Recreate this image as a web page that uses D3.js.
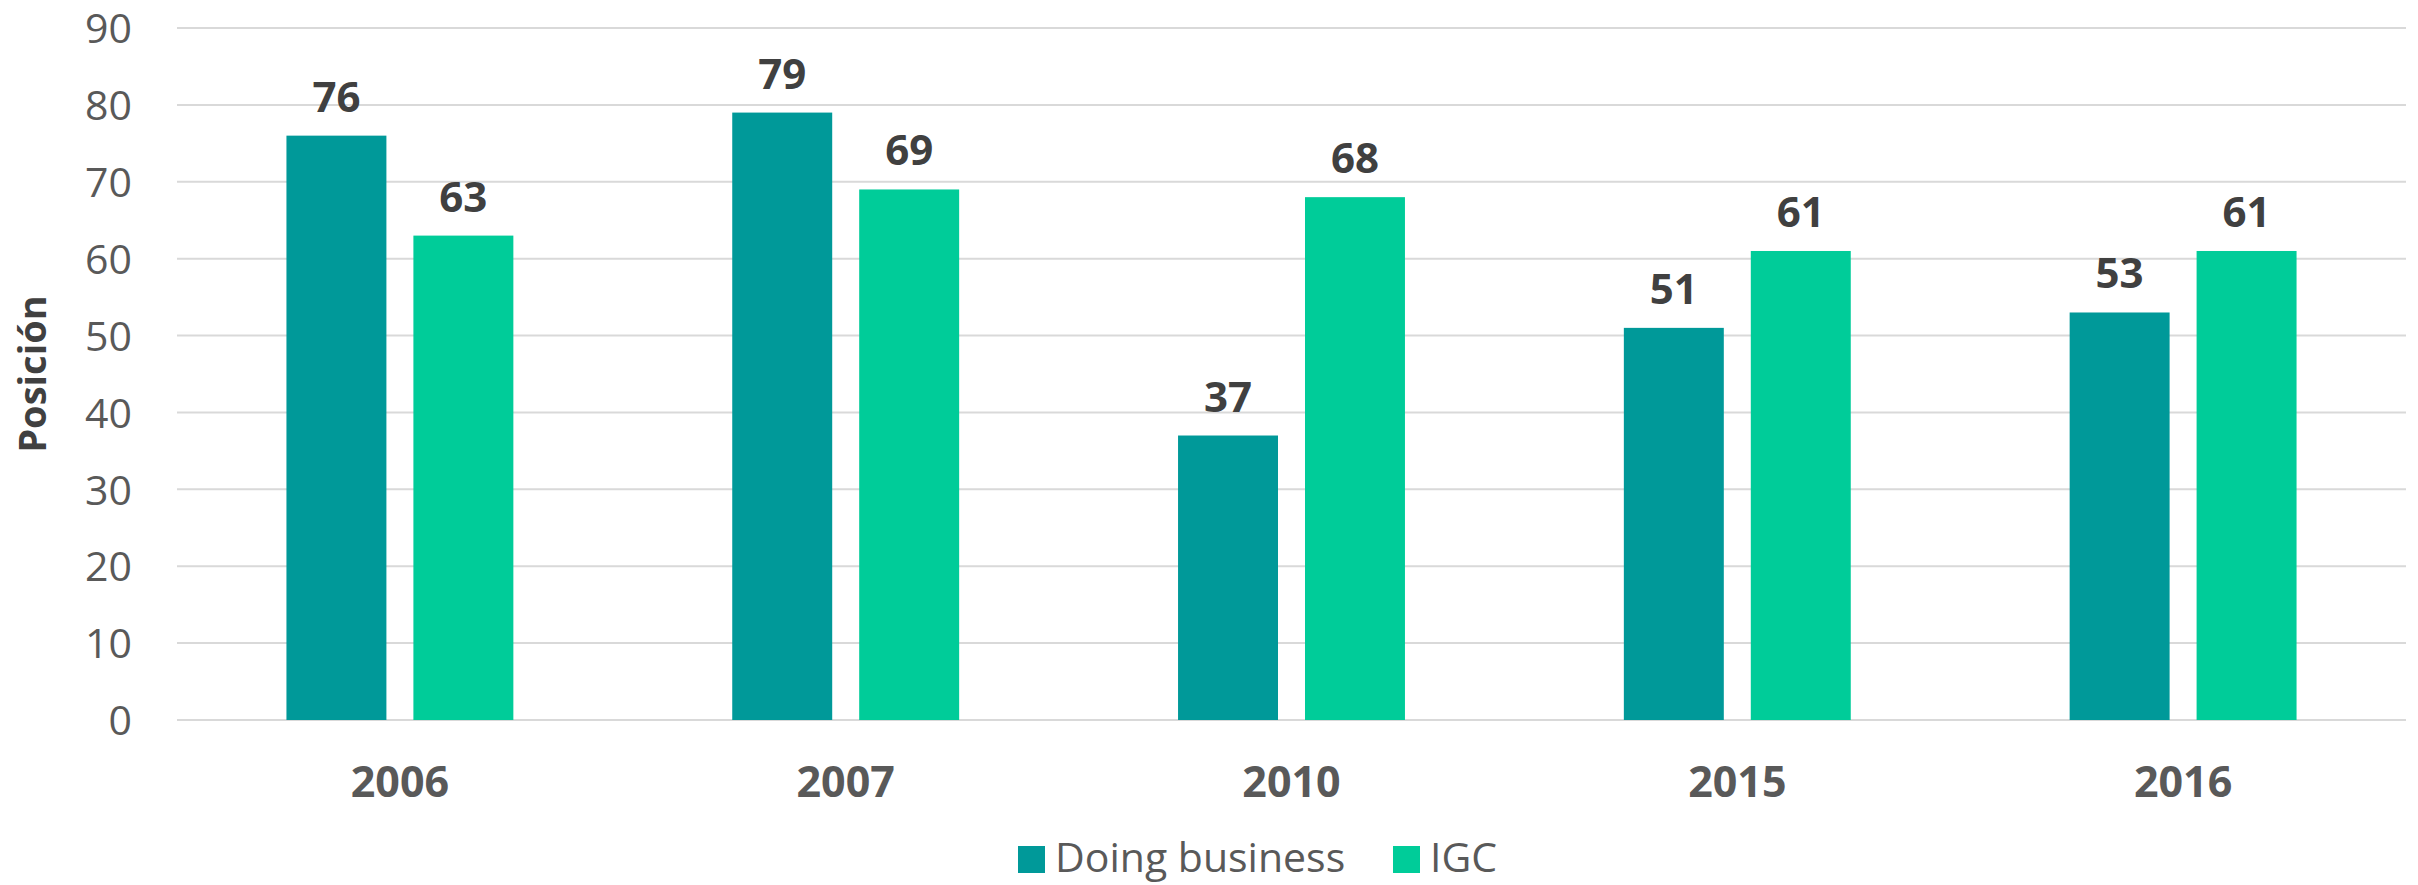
<!DOCTYPE html>
<html>
<head>
<meta charset="utf-8">
<script src="https://cdn.jsdelivr.net/npm/d3@7"></script>
<style>
  html, body { margin: 0; padding: 0; background: #ffffff; }
  svg { display: block; }
</style>
</head>
<body>
<svg id="chart" width="2418" height="885"></svg>
<script>
const years = ["2006", "2007", "2010", "2015", "2016"];
const seriesNames = ["Doing business", "IGC"];
const doingBusiness = [76, 79, 37, 51, 53];
const igc = [63, 69, 68, 61, 61];
const yTicks = [0, 10, 20, 30, 40, 50, 60, 70, 80, 90];
const colors = ["#009999", "#00CC99"];
const yTitle = "Posición";

const values = [doingBusiness, igc];
const font = "'Open Sans', 'Noto Sans', sans-serif";

const svg = d3.select("#chart");
const plotLeft = 177, plotRight = 2406, plotTop = 28, plotBottom = 720;

const x0 = d3.scaleBand().domain(years).range([plotLeft, plotRight])
  .paddingInner(0.491).paddingOuter(0.2455);
const x1 = d3.scaleBand().domain(seriesNames).range([0, x0.bandwidth()])
  .paddingInner(0.2126).paddingOuter(0);
const y = d3.scaleLinear().domain([0, 90]).range([plotBottom, plotTop]);
const color = d3.scaleOrdinal().domain(seriesNames).range(colors);

// gridlines
svg.append("g").selectAll("line").data(yTicks).join("line")
  .attr("x1", plotLeft).attr("x2", plotRight)
  .attr("y1", d => y(d)).attr("y2", d => y(d))
  .attr("stroke", "#d9d9d9").attr("stroke-width", 2);

// y axis labels
const yAxis = svg.append("g").attr("transform", `translate(${plotLeft - 45},0)`)
  .call(d3.axisLeft(y).tickValues(yTicks).tickSize(0).tickPadding(0));
yAxis.select(".domain").remove();
yAxis.selectAll("text").attr("font-family", font).attr("font-size", 41)
  .attr("fill", "#595959").attr("dy", "0.36em");

// x axis labels
const xAxis = svg.append("g").attr("transform", `translate(0,${plotBottom})`)
  .call(d3.axisBottom(x0).tickSize(0).tickPadding(0));
xAxis.select(".domain").remove();
xAxis.selectAll("text").attr("font-family", font).attr("font-size", 43)
  .attr("font-weight", "bold").attr("fill", "#595959").attr("y", 77).attr("dy", 0);

// bars
const groups = svg.append("g").selectAll("g").data(years).join("g")
  .attr("transform", d => `translate(${x0(d)},0)`);
groups.selectAll("rect")
  .data((d, i) => seriesNames.map((s, k) => ({ s, v: values[k][i] })))
  .join("rect")
  .attr("x", d => x1(d.s)).attr("width", x1.bandwidth())
  .attr("y", d => y(d.v)).attr("height", d => y(0) - y(d.v))
  .attr("fill", d => color(d.s));
groups.selectAll("text")
  .data((d, i) => seriesNames.map((s, k) => ({ s, v: values[k][i] })))
  .join("text")
  .attr("x", d => x1(d.s) + x1.bandwidth() / 2)
  .attr("y", d => y(d.v) - 24)
  .attr("text-anchor", "middle")
  .attr("font-family", font).attr("font-size", 42).attr("font-weight", "bold")
  .attr("fill", "#404040")
  .text(d => d.v);

// y title
svg.append("text")
  .attr("transform", `translate(46,${(plotTop + plotBottom) / 2}) rotate(-90)`)
  .attr("text-anchor", "middle")
  .attr("font-family", font).attr("font-size", 38).attr("font-weight", "bold")
  .attr("fill", "#404040")
  .text(yTitle);

// legend
const legendX = [1018, 1393];
const legend = svg.append("g").selectAll("g").data(seriesNames).join("g")
  .attr("transform", (d, i) => `translate(${legendX[i]},846)`);
legend.append("rect").attr("width", 27).attr("height", 27).attr("fill", d => color(d));
legend.append("text").attr("x", 37).attr("y", 26)
  .attr("font-family", font).attr("font-size", 41).attr("fill", "#595959")
  .text(d => d);
</script>
</body>
</html>
